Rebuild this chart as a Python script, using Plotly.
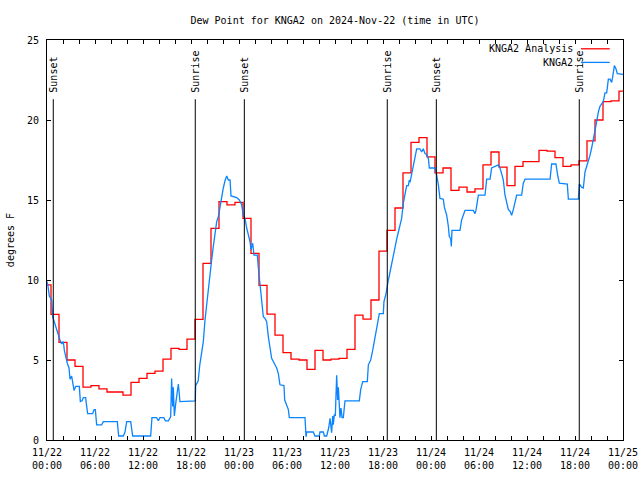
import plotly.graph_objects as go
import pandas as pd

# ---------------- data ----------------
start = pd.Timestamp("2024-11-22 00:00")

# KNGA2 Analysis: hourly values, 11/22 00:00 .. 11/25 00:00
analysis_values = [
    9.7, 7.85, 6.1, 5.0, 4.6, 3.3, 3.4, 3.2, 3.0, 3.0, 2.8, 3.6, 3.85, 4.17, 4.3, 5.05,
    5.73, 5.67, 6.3, 7.54, 11.04, 13.23, 14.9, 14.7, 14.85, 13.85, 11.67, 9.67, 7.87, 6.56,
    5.46, 5.05, 5.0, 4.42, 5.6, 5.0, 5.05, 5.1, 5.67, 7.8, 7.55, 8.75, 11.8, 13.1, 14.5,
    16.7, 18.6, 18.9, 17.7, 16.7, 17.0, 15.6, 15.8, 15.5, 15.7, 17.2, 18.0, 17.05, 15.9,
    17.1, 17.4, 17.4, 18.1, 18.05, 17.65, 17.1, 17.2, 17.45, 18.7, 20.0, 21.15, 21.2, 21.8,
]

# KNGA2 observations: hours since start, dew point (F)
obs_hours = [
    0.0, 0.1, 0.29, 0.58, 0.71, 1.0, 1.21, 1.42, 1.62, 1.83, 2.04, 2.17, 2.33, 2.54, 2.75,
    2.88, 3.08, 3.21, 3.38, 3.58, 4.04, 4.17, 4.38, 4.54, 4.83, 4.96, 5.08, 5.71, 5.88,
    6.04, 6.21, 6.83, 7.04, 8.79, 8.96, 9.54, 9.75, 9.96, 10.46, 10.71, 12.96, 13.12, 13.7,
    13.92, 14.12, 14.6, 14.8, 15.17, 15.46, 15.58, 15.71, 15.79, 15.92, 16.12, 16.42, 16.62,
    18.54, 18.58, 18.9, 19.1, 19.33, 19.54, 19.75, 19.96, 20.17, 20.38, 20.58, 20.79, 21.0,
    21.21, 21.42, 21.62, 21.83, 22.04, 22.25, 22.46, 22.67, 22.88, 23.0, 23.29, 23.71, 24.04,
    24.33, 24.54, 24.75, 24.96, 25.17, 25.38, 25.5, 25.71, 25.88, 26.29, 26.42, 26.62, 26.83,
    27.04, 27.25, 27.46, 27.67, 27.88, 28.08, 28.5, 28.71, 28.92, 29.12, 29.62, 29.71, 30.17,
    30.29, 32.25, 32.38, 32.46, 33.29, 33.5, 34.04, 34.12, 34.54, 34.67, 34.96, 35.08, 35.21,
    35.38, 35.46, 35.58, 35.71, 35.79, 35.92, 36.04, 36.21, 36.33, 36.42, 36.54, 36.62, 36.75,
    36.88, 37.04, 37.17, 37.25, 39.04, 39.21, 39.46, 40.04, 40.17, 40.46, 40.71, 41.0, 41.21,
    41.42, 41.54, 42.04, 42.12, 42.38, 42.54, 42.67, 42.88, 43.08, 43.29, 43.5, 43.71, 43.92,
    44.12, 44.33, 44.54, 44.75, 44.96, 45.17, 45.29, 45.38, 45.58, 45.79, 46.0, 46.21, 46.62,
    46.83, 47.04, 47.25, 47.46, 47.67, 47.79, 48.5, 48.71, 48.92, 49.12, 49.54, 49.67, 49.96,
    50.17, 50.29, 50.46, 50.54, 50.62, 51.62, 51.83, 52.04, 52.25, 53.29, 53.5, 53.62, 53.92,
    54.75, 54.96, 55.38, 55.58, 56.42, 56.62, 56.83, 57.04, 57.25, 57.46, 57.67, 57.88, 58.08,
    58.29, 58.5, 58.71, 59.33, 59.54, 59.75, 62.88, 63.08, 63.62, 63.83, 64.04, 65.04, 65.17,
    66.42, 66.54, 66.83, 67.04, 67.25, 67.54, 67.88, 68.08, 68.29, 68.5, 68.71, 68.92, 69.12,
    69.54, 69.75, 69.96, 70.17, 70.38, 70.58, 70.71, 70.92, 71.12, 71.29, 72.0,
]
obs_values = [
    9.9, 9.7, 9.0, 8.75, 7.7, 7.2, 6.8, 6.55, 6.25, 6.0, 6.15, 5.6, 5.2, 4.8, 4.5,
    3.8, 4.0, 3.55, 3.1, 3.35, 3.35, 2.4, 2.45, 2.65, 2.65, 2.1, 1.65, 1.65, 1.9,
    1.9, 0.95, 0.95, 1.15, 1.15, 0.25, 0.25, 0.5, 1.15, 1.15, 0.25, 0.25, 1.4, 1.4,
    1.2, 1.4, 1.4, 1.2, 1.2, 1.45, 3.85, 2.1, 3.3, 1.5, 2.4, 3.5, 2.4,
    2.45, 3.4, 3.7, 4.7, 5.5, 6.15, 7.5, 8.55, 9.25, 10.3, 11.25, 12.1, 12.8,
    13.65, 13.95, 14.6, 15.2, 15.75, 16.2, 16.5, 16.25, 16.25, 15.25, 15.2, 15.15, 15.0,
    14.7, 14.05, 13.85, 13.25, 12.9, 12.4, 11.9, 12.3, 11.55, 11.55, 10.75, 9.7, 8.75,
    7.7, 7.6, 7.4, 6.45, 5.6, 5.1, 4.7, 4.5, 4.15, 3.45, 3.4, 2.5, 1.9,
    1.4, 1.4, 0.2, 0.5, 0.5, 0.25, 0.25, 0.5, 0.5, 0.25, 0.25, 0.5, 0.75,
    1.35, 0.7, 0.45, 1.5, 0.95, 1.6, 1.5, 4.05, 2.5, 3.3, 2.0, 1.4, 2.0,
    1.4, 1.4, 2.0, 2.45, 2.45, 3.15, 3.65, 3.65, 4.7, 5.0, 5.6, 6.35, 7.1,
    7.6, 7.9, 7.9, 8.65, 9.15, 9.8, 10.0, 10.5, 11.05, 11.55, 12.1, 12.55, 13.0,
    13.45, 13.85, 14.8, 15.4, 15.9, 15.9, 16.25, 16.1, 16.6, 17.3, 17.7, 18.2, 18.2,
    18.0, 18.2, 17.9, 17.85, 17.6, 17.0, 17.0, 16.55, 15.95, 15.1, 15.05, 14.55, 14.05,
    13.35, 12.7, 12.6, 12.1, 13.1, 13.1, 13.75, 14.1, 14.35, 14.35, 14.15, 14.35, 15.3,
    15.3, 16.3, 16.3, 17.0, 17.2, 17.0, 16.65, 16.25, 15.3, 14.8, 14.4, 14.3, 14.05,
    14.4, 14.8, 15.3, 15.3, 16.05, 16.3, 16.3, 17.25, 17.25, 16.55, 16.05, 16.0, 15.05,
    15.05, 16.0, 15.8, 15.75, 16.75, 17.2, 17.8, 18.25, 18.75, 19.4, 19.9, 20.5, 20.85,
    21.15, 21.7, 21.7, 22.55, 22.55, 22.35, 22.7, 23.4, 23.2, 22.9, 22.85,
]

sun_labels = ["Sunset", "Sunrise", "Sunset", "Sunrise", "Sunset", "Sunrise"]
sun_times = ["2024-11-22 00:47", "2024-11-22 18:32", "2024-11-23 00:40",
             "2024-11-23 18:32", "2024-11-24 00:40", "2024-11-24 18:32"]

series_names = ["KNGA2 Analysis", "KNGA2"]
series_colors = ["#ff0000", "#0a84ff"]

# ---------------- build ----------------
analysis_times = [start + pd.Timedelta(hours=i) for i in range(len(analysis_values))]
obs_times = [start + pd.Timedelta(hours=h) for h in obs_hours]

FONT = "DejaVu Sans Mono"

fig = go.Figure()
fig.add_trace(go.Scatter(x=analysis_times, y=analysis_values, mode="lines",
                         line=dict(color=series_colors[0], width=1.3, shape="hvh"),
                         name=series_names[0], showlegend=False))
fig.add_trace(go.Scatter(x=obs_times, y=obs_values, mode="lines",
                         line=dict(color=series_colors[1], width=1.3),
                         name=series_names[1], showlegend=False))

LINE_TOP = 21.3
for lab, t in zip(sun_labels, sun_times):
    fig.add_shape(type="line", xref="x", yref="y", x0=t, x1=t, y0=0, y1=LINE_TOP,
                  line=dict(color="black", width=1))
    fig.add_annotation(x=t, y=LINE_TOP + 0.3, xref="x", yref="y", text=lab,
                       textangle=-90, showarrow=False, xanchor="center", yanchor="bottom",
                       font=dict(family=FONT, size=10, color="black"))

# legend (gnuplot style: text on the left, sample line on the right)
leg_y = [0.978, 0.944]
for name, col, yy in zip(series_names, series_colors, leg_y):
    fig.add_annotation(x=0.917, y=yy, xref="paper", yref="paper", text=name,
                       showarrow=False, xanchor="right", yanchor="middle",
                       font=dict(family=FONT, size=10, color="black"))
    fig.add_shape(type="line", xref="paper", yref="paper", x0=0.927, x1=0.977,
                  y0=yy, y1=yy, line=dict(color=col, width=1.3))

# y-axis title
fig.add_annotation(x=-0.064, y=0.5, xref="paper", yref="paper", text="degrees F",
                   textangle=-90, showarrow=False, xanchor="center", yanchor="middle",
                   font=dict(family=FONT, size=10, color="black"))

tickvals = [start + pd.Timedelta(hours=2 * i) for i in range(37)]
ticktext = [t.strftime("%m/%d<br>%H:%M") if (t.hour % 6 == 0) else "" for t in tickvals]

fig.update_layout(
    template="none",
    width=640, height=480,
    margin=dict(l=47, r=17, t=40, b=40, autoexpand=False),
    paper_bgcolor="white", plot_bgcolor="white",
    font=dict(family=FONT, size=10, color="black"),
    title=dict(text="Dew Point for KNGA2 on 2024-Nov-22 (time in UTC)",
               x=0.5, xref="paper", xanchor="center",
               y=1 - 20 / 480, yref="container", yanchor="middle",
               font=dict(family=FONT, size=10, color="black")),
    xaxis=dict(type="date", range=[start, start + pd.Timedelta(hours=72)],
               tickvals=tickvals, ticktext=ticktext, automargin=False,
               ticks="inside", ticklen=4, tickcolor="black",
               showline=True, linecolor="black", linewidth=1, mirror="ticks",
               showgrid=False, zeroline=False, ticklabelstandoff=3),
    yaxis=dict(range=[0, 25], tickvals=[0, 5, 10, 15, 20, 25], automargin=False,
               ticks="inside", ticklen=4, tickcolor="black",
               showline=True, linecolor="black", linewidth=1, mirror="ticks",
               showgrid=False, zeroline=False, ticklabelstandoff=5),
)

# remove the default page margin so the 640x480 figure fills the window exactly
fig.write_html("out.html",
               config={"displayModeBar": False},
               post_script="document.body.style.margin='0';"
                           "document.documentElement.style.overflow='hidden';")
